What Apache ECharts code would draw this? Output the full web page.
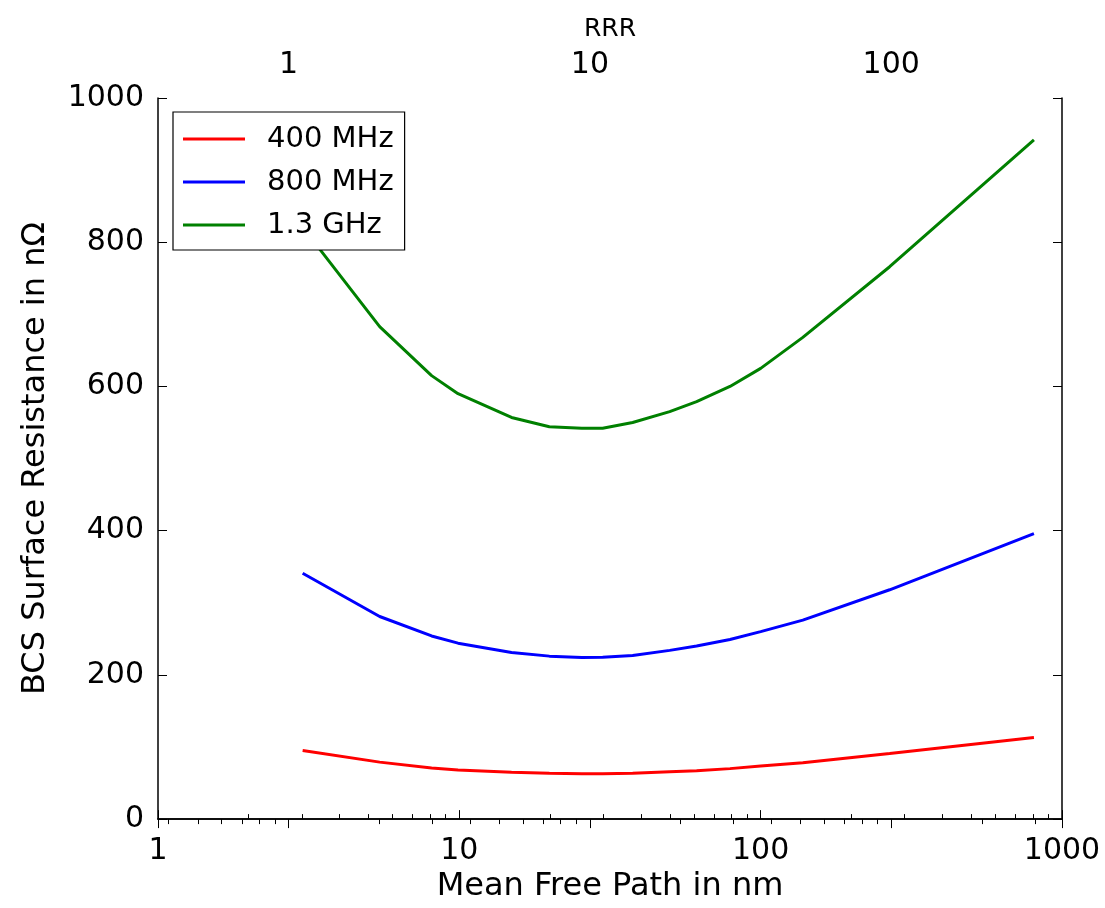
<!DOCTYPE html>
<html>
<head>
<meta charset="utf-8">
<script src="https://cdn.jsdelivr.net/npm/echarts@6/dist/echarts.min.js"></script>
<style>
html,body{margin:0;padding:0;background:#fff;}
#chart{width:1105px;height:908px;}
</style>
</head>
<body>
<div id="chart"></div>
<script>
// Mean free path (nm) sample points
const mfp = [3.02, 5.44, 8.09, 9.9, 14.9, 19.9, 25.5, 29.9, 37.6, 49.9, 61.3, 79.1, 100, 138, 268, 807];
// BCS surface resistance (nOhm)
const r400 = [95, 79, 71, 68, 65, 63.5, 63, 63, 63.5, 65.5, 67, 70, 73.5, 78, 91, 113];
const r800 = [341, 281, 254, 244, 231, 226, 224, 224.5, 227, 234, 240, 249, 260, 276, 318, 396];
const r1300 = [821, 683, 615, 590, 557, 544, 542, 542, 550, 565, 579, 600, 625, 668, 766, 942];
const seriesNames = ['400 MHz', '800 MHz', '1.3 GHz'];
const seriesColors = ['#ff0000', '#0000ff', '#008000'];
// Axis ranges
const mfpRange = [1, 1000];
const rrrRange = [0.3687, 368.7];
const yRange = [0, 1000];
const yStep = 200;

const FONT = 'DejaVu Sans';
const pairs = (ys) => mfp.map((x, i) => [x, ys[i]]);
const allY = [r400, r800, r1300];
const plain = (v) => String(+v.toPrecision(6));

const chart = echarts.init(document.getElementById('chart'), null, {renderer: 'canvas'});
const axisLineStyle = {color: '#000', width: 1.5};
const tick = {show: true, inside: true, length: 9, lineStyle: {color: '#000', width: 1}};
const minor = {show: true, splitNumber: 9, length: 5, lineStyle: {color: '#000', width: 1}};
chart.setOption({
  backgroundColor: '#fff',
  animation: false,
  grid: {left: 158, top: 98, right: 43, bottom: 88, containLabel: false},
  legend: {
    left: 173, top: 112,
    orient: 'vertical',
    data: seriesNames,
    icon: 'rect',
    itemWidth: 62, itemHeight: 3,
    itemGap: 13,
    padding: [12, 11, 10, 10],
    borderColor: '#000', borderWidth: 1.2,
    backgroundColor: '#fff',
    textStyle: {fontFamily: FONT, fontSize: 29, color: '#000', lineHeight: 30, padding: [0, 0, 0, 17]}
  },
  xAxis: [
    {
      type: 'log', logBase: 10, min: mfpRange[0], max: mfpRange[1],
      position: 'bottom',
      name: 'Mean Free Path in nm', nameLocation: 'middle', nameGap: 48,
      nameTextStyle: {fontFamily: FONT, fontSize: 32, color: '#000'},
      axisLine: {show: true, lineStyle: axisLineStyle},
      axisTick: tick,
      minorTick: minor,
      axisLabel: {fontFamily: FONT, fontSize: 30, color: '#000', margin: 17, formatter: plain},
      splitLine: {show: false}
    },
    {
      type: 'log', logBase: 10, min: rrrRange[0], max: rrrRange[1],
      position: 'top',
      name: 'RRR', nameLocation: 'middle', nameGap: 56,
      nameTextStyle: {fontFamily: FONT, fontSize: 25, color: '#000'},
      axisLine: {show: true, lineStyle: axisLineStyle},
      axisTick: tick,
      minorTick: minor,
      axisLabel: {fontFamily: FONT, fontSize: 30, color: '#000', margin: 18, showMinLabel: false, showMaxLabel: false, formatter: plain},
      splitLine: {show: false}
    }
  ],
  yAxis: [
    {
      type: 'value', min: yRange[0], max: yRange[1], interval: yStep,
      position: 'left',
      name: 'BCS Surface Resistance in nΩ', nameLocation: 'middle', nameGap: 106,
      nameTextStyle: {fontFamily: FONT, fontSize: 32, color: '#000'},
      axisLine: {show: true, lineStyle: axisLineStyle},
      axisTick: tick,
      axisLabel: {fontFamily: FONT, fontSize: 30, color: '#000', margin: 14, formatter: plain},
      splitLine: {show: false}
    },
    {
      type: 'value', min: yRange[0], max: yRange[1], interval: yStep,
      position: 'right',
      axisLine: {show: true, lineStyle: axisLineStyle},
      axisTick: tick,
      axisLabel: {show: false},
      splitLine: {show: false}
    }
  ],
  series: seriesNames.map((n, i) => ({
    name: n,
    type: 'line',
    xAxisIndex: 0, yAxisIndex: 0,
    data: pairs(allY[i]),
    showSymbol: false, symbol: 'none',
    color: seriesColors[i],
    lineStyle: {color: seriesColors[i], width: 3},
    z: 3
  }))
});
</script>
</body>
</html>
